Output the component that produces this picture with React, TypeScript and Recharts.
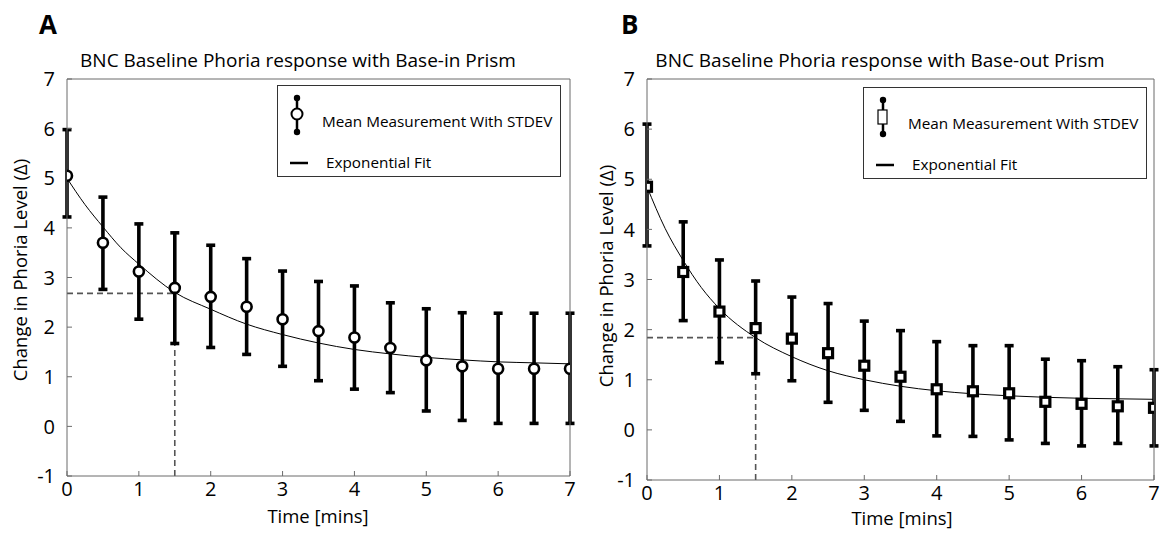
import React from "react";
import {
  ComposedChart,
  Scatter,
  Line,
  XAxis,
  YAxis,
  ErrorBar,
  ReferenceLine,
} from "recharts";

const timeMins = [0, 0.5, 1, 1.5, 2, 2.5, 3, 3.5, 4, 4.5, 5, 5.5, 6, 6.5, 7];

// panel A: base-in prism
const meanA = [5.05, 3.7, 3.12, 2.79, 2.61, 2.41, 2.16, 1.92, 1.79, 1.58, 1.33, 1.21, 1.16, 1.16, 1.16];
const lowA = [4.22, 2.76, 2.16, 1.67, 1.59, 1.45, 1.21, 0.92, 0.75, 0.68, 0.31, 0.12, 0.06, 0.06, 0.06];
const highA = [5.98, 4.62, 4.08, 3.9, 3.65, 3.38, 3.13, 2.92, 2.83, 2.49, 2.37, 2.29, 2.28, 2.28, 2.28];

// panel B: base-out prism
const meanB = [4.85, 3.15, 2.36, 2.03, 1.82, 1.53, 1.28, 1.06, 0.81, 0.77, 0.73, 0.56, 0.52, 0.47, 0.44];
const lowB = [3.67, 2.18, 1.34, 1.12, 0.98, 0.55, 0.39, 0.17, -0.12, -0.13, -0.2, -0.27, -0.32, -0.27, -0.32];
const highB = [6.1, 4.15, 3.39, 2.97, 2.65, 2.52, 2.17, 1.98, 1.76, 1.68, 1.68, 1.41, 1.38, 1.26, 1.2];

// exponential fit curves
const fitTimes = [0, 0.25, 0.5, 0.75, 1, 1.5, 2, 2.5, 3, 3.5, 4, 4.5, 5, 5.5, 6, 6.5, 7];
const fitA = [5.0, 4.47, 4.02, 3.6, 3.27, 2.7, 2.36, 2.06, 1.85, 1.68, 1.55, 1.46, 1.39, 1.34, 1.3, 1.28, 1.26];
const fitB = [4.85, 4.02, 3.38, 2.84, 2.42, 1.84, 1.46, 1.18, 1.0, 0.87, 0.78, 0.72, 0.68, 0.65, 0.63, 0.62, 0.61];

// half-response markers (dashed)
const halfTime = 1.5;
const halfA = 2.68;
const halfB = 1.84;

const xTicks = [0, 1, 2, 3, 4, 5, 6, 7];
const yTicks = [-1, 0, 1, 2, 3, 4, 5, 6, 7];

const FONT = "'Open Sans', sans-serif";
const AXIS_COLOR = "#6b6b6b";
const TICK_SIZE = 20;

function buildPoints(mean: number[], low: number[], high: number[]) {
  return timeMins.map((x, i) => ({
    x,
    y: mean[i],
    err: [mean[i] - low[i], high[i] - mean[i]],
  }));
}

function buildFit(vals: number[]) {
  return fitTimes.map((x, i) => ({ x, y: vals[i] }));
}

const CircleMark = (props: any) => (
  <circle cx={props.cx} cy={props.cy} r={5} fill="#fff" stroke="#000" strokeWidth={2.6} />
);

const SquareMark = (props: any) => (
  <rect
    x={props.cx - 4.5}
    y={props.cy - 4.5}
    width={9}
    height={9}
    fill="#fff"
    stroke="#000"
    strokeWidth={3.2}
  />
);

const XTick = (p: any) => (
  <text x={p.x} y={p.y} dy="0.71em" textAnchor="middle" fill="#000" fontSize={TICK_SIZE} fontFamily={FONT}>
    {p.payload.value}
  </text>
);

const YTick = (p: any) => (
  <text x={p.x} y={p.y} dy="0.36em" textAnchor="end" fill="#000" fontSize={TICK_SIZE} fontFamily={FONT}>
    {p.payload.value}
  </text>
);

interface PanelProps {
  left: number;
  width: number;
  rightMargin: number;
  bottomMargin: number;
  points: any[];
  fit: any[];
  half: number;
  shape: any;
}

function Panel({ left, width, rightMargin, bottomMargin, points, fit, half, shape }: PanelProps) {
  return (
    <div style={{ position: "absolute", left, top: 0 }}>
      <ComposedChart
        width={width}
        height={533}
        margin={{ top: 78, right: rightMargin, bottom: bottomMargin, left: 66 }}
      >
        <XAxis
          dataKey="x"
          type="number"
          domain={[0, 7]}
          ticks={xTicks}
          height={1}
          tickSize={-5}
          tickMargin={10.5}
          stroke={AXIS_COLOR}
          tick={XTick}
          allowDataOverflow
        />
        <XAxis
          xAxisId="top"
          orientation="top"
          type="number"
          domain={[0, 7]}
          ticks={xTicks}
          height={1}
          tickSize={-5}
          stroke={AXIS_COLOR}
          tick={false}
        />
        <YAxis
          dataKey="y"
          type="number"
          domain={[-1, 7]}
          ticks={yTicks}
          width={1}
          tickSize={-5}
          tickMargin={17}
          stroke={AXIS_COLOR}
          tick={YTick}
          allowDataOverflow
        />
        <YAxis
          yAxisId="right"
          orientation="right"
          type="number"
          domain={[-1, 7]}
          ticks={yTicks}
          width={1}
          tickSize={-5}
          stroke={AXIS_COLOR}
          tick={false}
        />
        <ReferenceLine
          segment={[{ x: 0, y: half }, { x: halfTime, y: half }]}
          stroke="#555"
          strokeWidth={1.6}
          strokeDasharray="6 4"
        />
        <ReferenceLine
          segment={[{ x: halfTime, y: -1 }, { x: halfTime, y: half }]}
          stroke="#555"
          strokeWidth={1.6}
          strokeDasharray="6 4"
        />
        <Line
          data={fit}
          dataKey="y"
          type="monotone"
          stroke="#000"
          strokeWidth={1}
          dot={false}
          activeDot={false}
          isAnimationActive={false}
        />
        <Scatter data={points} dataKey="y" shape={shape} isAnimationActive={false}>
          <ErrorBar
            dataKey="err"
            direction="y"
            width={4.5}
            stroke="#000"
            strokeWidth={3.6}
            isAnimationActive={false}
          />
        </Scatter>
      </ComposedChart>
    </div>
  );
}

const textBase: React.CSSProperties = {
  position: "absolute",
  fontFamily: FONT,
  color: "#000",
  whiteSpace: "nowrap",
  lineHeight: 1,
};

function Legend({ left, top, square }: { left: number; top: number; square: boolean }) {
  return (
    <div
      style={{
        position: "absolute",
        left,
        top,
        width: 284,
        height: 92,
        border: "1px solid #333",
        background: "#fff",
        boxSizing: "border-box",
      }}
    >
      <svg width={40} height={92} style={{ position: "absolute", left: 0, top: 0 }}>
        <line x1={19} y1={12} x2={19} y2={46} stroke="#000" strokeWidth={2.5} />
        <circle cx={19} cy={12} r={3.2} fill="#000" />
        <circle cx={19} cy={46} r={3.2} fill="#000" />
        {square ? (
          <rect x={14} y={22} width={9} height={14} fill="#fff" stroke="#000" strokeWidth={1.2} />
        ) : (
          <circle cx={19} cy={28} r={5.5} fill="#fff" stroke="#000" strokeWidth={2} />
        )}
        <line x1={12} y1={77} x2={30} y2={77} stroke="#000" strokeWidth={2.5} />
      </svg>
      <div style={{ ...textBase, left: 44, top: 28, fontSize: 15.3 }}>Mean Measurement With STDEV</div>
      <div style={{ ...textBase, left: 48, top: 69, fontSize: 15.3 }}>Exponential Fit</div>
    </div>
  );
}

export default function App() {
  const pointsA = buildPoints(meanA, lowA, highA);
  const pointsB = buildPoints(meanB, lowB, highB);
  const fitDataA = buildFit(fitA);
  const fitDataB = buildFit(fitB);

  return (
    <div
      style={{
        position: "fixed",
        left: 0,
        top: 0,
        width: 1161,
        height: 533,
        background: "#fff",
        overflow: "hidden",
      }}
    >
      <Panel left={0} width={580} rightMargin={9} bottomMargin={56} points={pointsA} fit={fitDataA} half={halfA} shape={CircleMark} />
      <Panel left={580} width={581} rightMargin={6} bottomMargin={52} points={pointsB} fit={fitDataB} half={halfB} shape={SquareMark} />

      <div style={{ ...textBase, left: 39, top: 11, fontSize: 26, fontWeight: 700 }}>A</div>
      <div style={{ ...textBase, left: 621, top: 11, fontSize: 26, fontWeight: 700 }}>B</div>

      <div style={{ ...textBase, left: 298, top: 60, fontSize: 19, transform: "translate(-50%, -50%)" }}>
        BNC Baseline Phoria response with Base-in Prism
      </div>
      <div style={{ ...textBase, left: 880, top: 60, fontSize: 19, transform: "translate(-50%, -50%)" }}>
        BNC Baseline Phoria response with Base-out Prism
      </div>

      <div
        style={{ ...textBase, left: 20, top: 270, fontSize: 18.5, transform: "translate(-50%, -50%) rotate(-90deg)" }}
      >
        Change in Phoria Level (Δ)
      </div>
      <div
        style={{ ...textBase, left: 606, top: 276, fontSize: 18.5, transform: "translate(-50%, -50%) rotate(-90deg)" }}
      >
        Change in Phoria Level (Δ)
      </div>

      <div style={{ ...textBase, left: 318, top: 516, fontSize: 18.5, transform: "translate(-50%, -50%)" }}>
        Time [mins]
      </div>
      <div style={{ ...textBase, left: 902, top: 518, fontSize: 18.5, transform: "translate(-50%, -50%)" }}>
        Time [mins]
      </div>

      <Legend left={277} top={85} square={false} />
      <Legend left={863} top={87} square={true} />
    </div>
  );
}
